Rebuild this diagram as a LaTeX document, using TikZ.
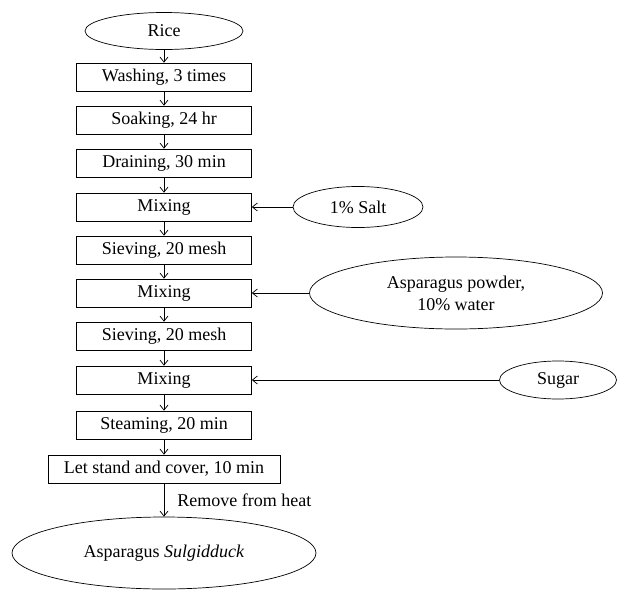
\documentclass[tikz,border=0pt]{standalone}
\usepackage{fontspec}
\setmainfont{Liberation Serif}
\usetikzlibrary{positioning,arrows.meta,shapes.geometric}

\begin{document}
\begin{tikzpicture}[x=1pt, y=-1pt, >={Straight Barb[length=5pt,width=8pt]}, line width=0.7pt,
    every node/.style={font=\fontsize{18}{22}\selectfont},
    stepbox/.style={draw, rectangle, minimum width=175pt, minimum height=28pt, inner sep=0pt},
    inbox/.style={draw, ellipse, inner sep=0pt, align=center}]
      \useasboundingbox (0,0) rectangle (623,589);

      \node[inbox, minimum width=158pt, minimum height=37pt] (rice) at (164,31) {Rice};

      \node[stepbox] (s1) at (164,77) {Washing, 3 times};
      \node[stepbox] (s2) at (164,120) {Soaking, 24 hr};
      \node[stepbox] (s3) at (164,163) {Draining, 30 min};
      \node[stepbox] (s4) at (164,207) {Mixing};
      \node[stepbox] (s5) at (164,250) {Sieving, 20 mesh};
      \node[stepbox] (s6) at (164,293) {Mixing};
      \node[stepbox] (s7) at (164,336) {Sieving, 20 mesh};
      \node[stepbox] (s8) at (164,380) {Mixing};
      \node[stepbox] (s9) at (164,425) {Steaming, 20 min};
      \node[stepbox, minimum width=232pt] (s10) at (164,469) {Let stand and cover, 10 min};

      \node[inbox, minimum width=304pt, minimum height=72pt] (prod) at (164,553) {Asparagus \textit{Sulgidduck}};

      \node[inbox, minimum width=130pt, minimum height=41pt] (salt) at (358,207) {1\% Salt};
      \node[inbox, minimum width=293pt, minimum height=72pt] (powder) at (456,293) {Asparagus powder,\\10\% water};
      \node[inbox, minimum width=117pt, minimum height=38pt] (sugar) at (558,380) {Sugar};

      \draw[->] (rice) -- (s1);
      \draw[->] (s1) -- (s2);
      \draw[->] (s2) -- (s3);
      \draw[->] (s3) -- (s4);
      \draw[->] (s4) -- (s5);
      \draw[->] (s5) -- (s6);
      \draw[->] (s6) -- (s7);
      \draw[->] (s7) -- (s8);
      \draw[->] (s8) -- (s9);
      \draw[->] (s9) -- (s10);
      \draw[->] (s10) -- node[right, inner sep=0pt, xshift=13pt] {Remove from heat} (prod);

      \draw[->] (salt.west) -- (s4.east);
      \draw[->] (powder.west) -- (s6.east);
      \draw[->] (sugar.west) -- (s8.east);
    \end{tikzpicture}
\end{document}
